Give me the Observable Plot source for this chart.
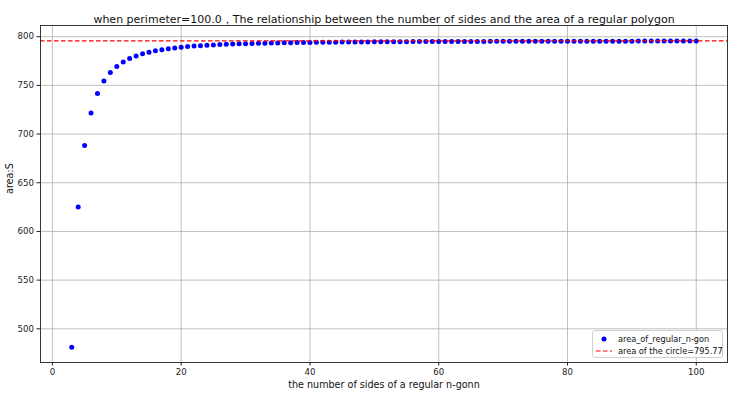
<!DOCTYPE html>
<html>
<head>
<meta charset="utf-8">
<script src="https://cdn.jsdelivr.net/npm/d3@7"></script>
<script src="https://cdn.jsdelivr.net/npm/@observablehq/plot@0.6"></script>
<style>
  body { margin: 0; background: #fff; }
  #wrap { position: relative; width: 752px; height: 400px; font-family: "DejaVu Sans", sans-serif; }
  #legend { position: absolute; left: 592px; top: 330px; width: 131px; height: 28px;
    border: 1px solid #d0d0d0; border-radius: 3px; background: rgba(255,255,255,0.85);
    font-size: 8.2px; color: #111; box-sizing: border-box; white-space: nowrap; }
  .row { position: absolute; left: 0; height: 12px; display: flex; align-items: center; white-space: nowrap; }
  .row svg { margin-left: 2px; margin-right: 6px; flex: none; }
</style>
</head>
<body>
<div id="wrap"></div>
<script>
const titleText = "when perimeter=100.0，The relationship between the number of sides and the area of a regular polygon";
const xLabel = "the number of sides of a regular n-gonn";
const yLabel = "area:S";
const seriesName = "area_of_regular_n-gon";
const circleLabel = "area of the circle=795.77";
const circleArea = 795.77;
const xTicks = [0, 20, 40, 60, 80, 100];
const yTicks = [500, 550, 600, 650, 700, 750, 800];

const sides = [3,4,5,6,7,8,9,10,11,12,13,14,15,16,17,18,19,20,21,22,23,24,25,26,27,28,29,30,
  31,32,33,34,35,36,37,38,39,40,41,42,43,44,45,46,47,48,49,50,51,52,53,54,55,56,57,58,59,60,
  61,62,63,64,65,66,67,68,69,70,71,72,73,74,75,76,77,78,79,80,81,82,83,84,85,86,87,88,89,90,
  91,92,93,94,95,96,97,98,99,100];
const areas = [481.13,625.00,688.19,721.69,741.61,754.44,763.19,769.42,774.02,777.51,780.22,782.37,784.11,785.52,786.69,787.68,788.51,789.22,789.83,790.36,790.82,791.22,791.58,791.90,792.18,792.43,792.66,792.87,
  793.05,793.22,793.37,793.51,793.64,793.76,793.86,793.96,794.05,794.14,794.22,794.29,794.36,794.42,794.48,794.54,794.59,794.64,794.68,794.73,794.77,794.81,794.84,794.88,794.91,794.94,794.97,795.00,795.02,795.05,
  795.07,795.09,795.12,795.14,795.16,795.17,795.19,795.21,795.23,795.24,795.26,795.27,795.28,795.30,795.31,795.32,795.33,795.34,795.36,795.37,795.38,795.39,795.40,795.40,795.41,795.42,795.43,795.44,795.44,795.45,
  795.46,795.47,795.47,795.48,795.49,795.49,795.50,795.50,795.51,795.51];

const data = sides.map((n, i) => ({n, area: areas[i]}));

const chart = Plot.plot({
  width: 752, height: 400,
  marginLeft: 40, marginRight: 25, marginTop: 25, marginBottom: 38,
  style: {fontFamily: "DejaVu Sans", fontSize: "8.6px", color: "#222", background: "#fff"},
  x: {domain: [-1.85, 104.85]},
  y: {domain: [465.4, 811.5]},
  marks: [
    Plot.gridX(xTicks, {stroke: "#b0b0b0", strokeOpacity: 1, strokeWidth: 0.8}),
    Plot.gridY(yTicks, {stroke: "#b0b0b0", strokeOpacity: 1, strokeWidth: 0.8}),
    Plot.dot(data, {x: "n", y: "area", r: 2.5, fill: "#0000ff", stroke: null}),
    Plot.ruleY([circleArea], {stroke: "#ff0000", strokeWidth: 1.2, strokeDasharray: "4.5,2.5"}),
    Plot.frame({stroke: "#222", strokeWidth: 0.9}),
    Plot.axisX(xTicks, {tickSize: 3.5, tickPadding: 3, label: null, stroke: "#222"}),
    Plot.axisY(yTicks, {tickSize: 3.5, tickPadding: 3, label: null, stroke: "#222"}),
    Plot.text([titleText], {frameAnchor: "top", dy: -10, fontSize: 11, fill: "#111"}),
    Plot.text([xLabel], {frameAnchor: "bottom", dy: 22, lineAnchor: "middle", fontSize: 9.6, fill: "#111"}),
    Plot.text([yLabel], {frameAnchor: "left", dx: -31, rotate: -90, fontSize: 9.6, fill: "#111"})
  ]
});

const wrap = document.getElementById("wrap");
wrap.appendChild(chart);

const legend = document.createElement("div");
legend.id = "legend";
legend.innerHTML =
  `<div class="row" style="top:2px"><svg width="17" height="10"><circle cx="9" cy="5" r="2.5" fill="#0000ff"/></svg><span>${seriesName}</span></div>` +
  `<div class="row" style="top:14px"><svg width="17" height="10"><line x1="1" x2="17" y1="5" y2="5" stroke="#ff0000" stroke-width="1.2" stroke-dasharray="4.5,2.5"/></svg><span>${circleLabel}</span></div>`;
wrap.appendChild(legend);
</script>
</body>
</html>
